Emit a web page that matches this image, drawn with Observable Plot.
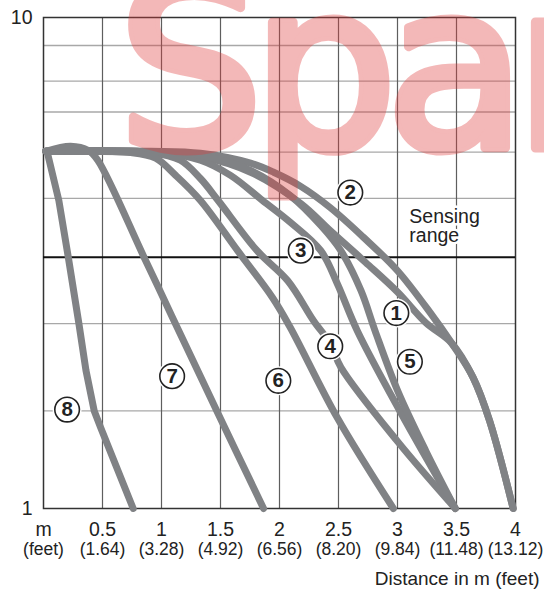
<!DOCTYPE html>
<html><head><meta charset="utf-8">
<script src="https://cdn.jsdelivr.net/npm/d3@7"></script>
<script src="https://cdn.jsdelivr.net/npm/@observablehq/plot@0.6"></script>
<style>body{margin:0;background:#fff} svg{display:block}</style>
</head><body><div id="chart"></div>
<script>
// ---- data ----
const xTicks = [0, 0.5, 1, 1.5, 2, 2.5, 3, 3.5, 4];
const xTickM = ["m", "0.5", "1", "1.5", "2", "2.5", "3", "3.5", "4"];
const xTickFeet = ["(feet)", "(1.64)", "(3.28)", "(4.92)", "(6.56)", "(8.20)", "(9.84)", "(11.48)", "(13.12)"];
const xGrid = [0.5, 1, 1.5, 2, 2.5, 3, 3.5];
const yTicks = [1, 10];
const yTickLabels = ["1", "10"];
const yGrid = [1.58, 2.38, 4.28, 5.32, 6.42, 7.42, 8.77];
const sensingRange = 3.25;
const sensingLabel = "Sensing\nrange";
const xTitle = "Distance in m (feet)";
const watermark = "Spar";

const curve1 = [[0.02,5.34],[0.91,5.31],[1.33,5.21],[1.755,4.84],[2.18,4.18],[2.43,3.68],[2.73,3.17],[3.0,2.76],[3.24,2.39],[3.46,2.17],[3.64,1.85],[3.78,1.51],[3.98,1.0]];
const curve2 = [[0.02,5.34],[0.91,5.34],[1.33,5.29],[1.755,5.05],[1.95,4.84],[2.18,4.53],[2.43,4.10],[2.71,3.57],[3.0,3.05],[3.28,2.50],[3.46,2.17],[3.64,1.85],[3.78,1.51],[3.98,1.0]];
const curve3 = [[0.02,5.34],[0.99,5.31],[1.33,5.12],[1.585,4.77],[1.856,4.24],[2.09,3.83],[2.35,3.35],[2.49,2.87],[2.66,2.30],[3.02,1.58],[3.49,1.0]];
const curve4 = [[0.02,5.34],[0.91,5.31],[1.16,5.12],[1.33,4.70],[1.48,4.24],[1.81,3.35],[2.07,2.91],[2.29,2.41],[2.43,2.17],[2.52,1.94],[3.0,1.37],[3.49,1.0]];
const curve5 = [[0.02,5.34],[1.08,5.31],[1.33,5.24],[1.755,4.88],[2.09,4.34],[2.35,3.77],[2.52,3.35],[2.69,2.78],[2.81,2.30],[3.0,1.74],[3.24,1.31],[3.49,1.0]];
const curve6 = [[0.02,5.34],[0.74,5.31],[0.95,5.17],[1.12,4.77],[1.33,4.24],[1.645,3.35],[1.94,2.69],[2.09,2.34],[2.49,1.53],[2.965,1.0]];
const curve7 = [[0.02,5.34],[0.23,5.47],[0.38,5.36],[0.46,5.12],[0.852,3.25],[1.086,2.47],[1.469,1.58],[1.865,1.0]];
const curve8 = [[0.03,5.34],[0.13,4.24],[0.21,3.25],[0.30,2.38],[0.36,1.91],[0.43,1.58],[0.485,1.46],[0.76,1.0]];

const labelText = ["1", "2", "3", "4", "5", "6", "7", "8"];
const labelX = [2.99, 2.60, 2.18, 2.43, 3.105, 1.99, 1.09, 0.20];
const labelY = [2.50, 4.40, 3.35, 2.14, 1.99, 1.82, 1.86, 1.59];

// ---- build tables ----
const smoothCurves = [curve1, curve2, curve3, curve4, curve5, curve6, curve7];
const rows = smoothCurves.flatMap((c, i) => c.map(([x, y]) => ({id: i + 1, x, y})));
const rows8 = curve8.map(([x, y]) => ({id: 8, x, y}));
const labels = labelText.map((t, i) => ({t, x: labelX[i], y: labelY[i]}));

const FONT = "Liberation Sans, Arial, sans-serif";
const GRAY = "#808285";
const lineStyle = {x: "x", y: "y", z: "id", stroke: GRAY, strokeWidth: 7,
  strokeLinecap: "round", strokeLinejoin: "round"};

const chart = Plot.plot({
  width: 544,
  height: 589,
  marginLeft: 43,
  marginRight: 29,
  marginTop: 17,
  marginBottom: 81,
  style: {fontFamily: FONT, background: "#fff", color: "#222"},
  x: {domain: [0, 4], axis: null},
  y: {type: "log", domain: [1, 10], axis: null},
  marks: [
    Plot.ruleY(yGrid, {stroke: "#a8a8a8", strokeWidth: 1.3}),
    Plot.ruleX(xGrid, {stroke: "#5e5e5e", strokeWidth: 1.2}),
    Plot.frame({stroke: "#333", strokeWidth: 1.5}),
    Plot.ruleY([sensingRange], {stroke: "#111", strokeWidth: 2}),
    Plot.line(rows, {...lineStyle, curve: "catmull-rom"}),
    Plot.line(rows8, {...lineStyle, curve: "linear"}),
    Plot.text([sensingLabel], {x: 3.1, y: sensingRange, text: d => d, textAnchor: "start",
      lineAnchor: "bottom", dy: -15, lineHeight: 0.98, fontSize: 19.5, fill: "#222",
      stroke: "white", strokeWidth: 5}),
    Plot.dot(labels, {x: "x", y: "y", r: 14.5, fill: "white"}),
    Plot.dot(labels, {x: "x", y: "y", r: 12.3, fill: "white", stroke: "#222", strokeWidth: 1.6}),
    Plot.text(labels, {x: "x", y: "y", text: "t", fontSize: 20.5, fontWeight: "bold", fill: "#222"}),
    // axis labels
    Plot.text(xTicks, {x: d => d, text: (d, i) => xTickM[i], frameAnchor: "bottom",
      lineAnchor: "bottom", dy: 27, fontSize: 19.5, fill: "#222"}),
    Plot.text(xTicks, {x: d => d, text: (d, i) => xTickFeet[i], frameAnchor: "bottom",
      lineAnchor: "bottom", dy: 46, fontSize: 17.5, fill: "#222"}),
    Plot.text(yTicks, {y: d => d, text: (d, i) => yTickLabels[i], frameAnchor: "left",
      textAnchor: "end", dx: -11, fontSize: 19.5, fill: "#222"}),
    Plot.text([xTitle], {frameAnchor: "bottom-right", textAnchor: "end", lineAnchor: "bottom",
      dx: 24, dy: 76, fontSize: 19, fill: "#222"}),
    // watermark
    Plot.text([watermark], {frameAnchor: "top-left", textAnchor: "start", lineAnchor: "bottom",
      dx: 74, dy: 130, fontSize: 230, fontFamily: "DejaVu Sans", fill: "#e03c3c",
      stroke: "#e03c3c", strokeWidth: 9, strokeLinejoin: "round", opacity: 0.36, className: "wm"})
  ]
});
d3.select(chart).selectAll(".wm text").attr("letter-spacing", -12);
document.getElementById("chart").appendChild(chart);
</script></body></html>
